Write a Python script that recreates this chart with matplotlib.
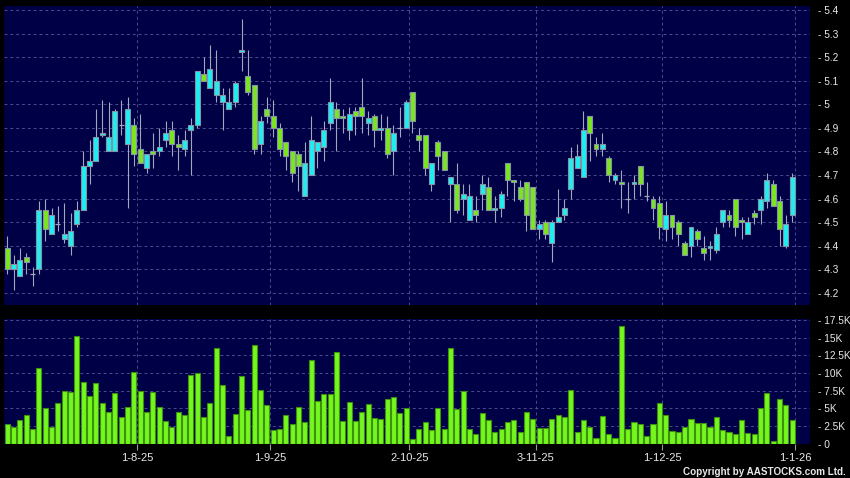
import numpy as np
import matplotlib
matplotlib.use('Agg')
from matplotlib import pyplot as plt
from matplotlib.ticker import FuncFormatter

# daily candles (index 0 = early July 2025, last = 31-12-25)
opens = [4.39, 4.30, 4.27, 4.35, 4.28, 4.30, 4.55, 4.45, 4.49, 4.43,
         4.40, 4.49, 4.55, 4.74, 4.76, 4.87, 4.80, 4.80, 4.91, 4.83,
         4.91, 4.81, 4.73, 4.80, 4.80, 4.85, 4.89, 4.83, 4.81, 4.89,
         4.91, 5.13, 5.07, 5.04, 5.01, 4.98, 5.01, 5.22, 5.12, 5.08,
         4.83, 4.98, 4.95, 4.90, 4.84, 4.80, 4.79, 4.61, 4.70, 4.80,
         4.82, 4.92, 4.98, 4.95, 4.89, 4.97, 4.99, 4.92, 4.95, 4.89,
         4.90, 4.80, 4.90, 4.90, 5.05, 4.87, 4.87, 4.66, 4.84, 4.80,
         4.66, 4.66, 4.60, 4.51, 4.55, 4.62, 4.65, 4.55, 4.56, 4.75,
         4.68, 4.65, 4.67, 4.65, 4.47, 4.50, 4.41, 4.50, 4.53, 4.64,
         4.73, 4.69, 4.95, 4.83, 4.81, 4.77, 4.68, 4.67, 4.60, 4.66,
         4.74, 4.61, 4.60, 4.58, 4.47, 4.53, 4.50, 4.41, 4.40, 4.46,
         4.39, 4.39, 4.38, 4.50, 4.53, 4.60, 4.51, 4.45, 4.54, 4.55,
         4.59, 4.66, 4.59, 4.40, 4.53]
highs = [4.44, 4.36, 4.39, 4.37, 4.31, 4.59, 4.60, 4.56, 4.57, 4.58,
         4.54, 4.59, 4.80, 4.85, 4.98, 5.02, 5.01, 4.98, 5.02, 5.03,
         4.94, 4.96, 4.79, 4.88, 4.90, 4.93, 4.93, 4.87, 4.89, 4.94,
         5.14, 5.20, 5.25, 5.23, 5.07, 5.07, 5.10, 5.36, 5.23, 5.08,
         4.95, 5.03, 5.02, 4.92, 4.84, 4.80, 4.80, 4.84, 4.95, 4.84,
         4.93, 5.11, 5.01, 4.98, 4.99, 4.99, 5.11, 4.97, 4.96, 4.96,
         4.95, 4.91, 4.99, 5.02, 5.05, 4.90, 4.87, 4.75, 4.85, 4.80,
         4.69, 4.75, 4.66, 4.66, 4.61, 4.70, 4.69, 4.61, 4.63, 4.75,
         4.68, 4.68, 4.67, 4.65, 4.51, 4.51, 4.51, 4.64, 4.60, 4.82,
         4.83, 4.97, 4.95, 4.86, 4.88, 4.78, 4.71, 4.72, 4.67, 4.70,
         4.74, 4.67, 4.61, 4.61, 4.59, 4.53, 4.51, 4.42, 4.48, 4.47,
         4.44, 4.42, 4.48, 4.55, 4.55, 4.60, 4.52, 4.52, 4.55, 4.61,
         4.71, 4.68, 4.61, 4.53, 4.71]
lows = [4.28, 4.21, 4.27, 4.28, 4.23, 4.28, 4.42, 4.45, 4.46, 4.41,
        4.36, 4.48, 4.55, 4.66, 4.76, 4.86, 4.80, 4.80, 4.87, 4.56,
        4.74, 4.75, 4.71, 4.73, 4.78, 4.82, 4.78, 4.72, 4.78, 4.70,
        4.90, 5.10, 5.07, 5.01, 4.89, 4.98, 4.99, 5.14, 5.04, 4.79,
        4.79, 4.92, 4.86, 4.78, 4.72, 4.67, 4.63, 4.61, 4.70, 4.73,
        4.76, 4.89, 4.80, 4.88, 4.85, 4.87, 4.88, 4.87, 4.82, 4.85,
        4.77, 4.70, 4.86, 4.90, 4.88, 4.80, 4.70, 4.63, 4.72, 4.72,
        4.50, 4.54, 4.53, 4.51, 4.50, 4.55, 4.55, 4.50, 4.52, 4.61,
        4.59, 4.59, 4.46, 4.47, 4.43, 4.43, 4.33, 4.50, 4.51, 4.60,
        4.73, 4.69, 4.76, 4.78, 4.78, 4.67, 4.66, 4.56, 4.54, 4.60,
        4.61, 4.59, 4.51, 4.43, 4.42, 4.43, 4.40, 4.36, 4.35, 4.40,
        4.34, 4.34, 4.37, 4.48, 4.48, 4.44, 4.43, 4.45, 4.49, 4.49,
        4.56, 4.57, 4.40, 4.39, 4.50]
closes = [4.30, 4.32, 4.34, 4.33, 4.28, 4.55, 4.47, 4.53, 4.49, 4.45,
          4.46, 4.55, 4.74, 4.76, 4.86, 4.88, 4.86, 4.97, 4.91, 4.98,
          4.79, 4.75, 4.79, 4.79, 4.82, 4.88, 4.83, 4.82, 4.85, 4.91,
          5.14, 5.10, 5.15, 5.10, 5.04, 5.01, 5.09, 5.23, 5.05, 4.81,
          4.93, 4.95, 4.90, 4.81, 4.78, 4.71, 4.74, 4.75, 4.85, 4.84,
          4.89, 5.01, 4.94, 4.94, 4.96, 4.95, 4.95, 4.94, 4.89, 4.90,
          4.79, 4.88, 4.90, 5.01, 4.93, 4.85, 4.73, 4.75, 4.78, 4.72,
          4.69, 4.55, 4.62, 4.61, 4.53, 4.66, 4.55, 4.56, 4.62, 4.68,
          4.67, 4.60, 4.53, 4.47, 4.49, 4.45, 4.50, 4.52, 4.56, 4.77,
          4.78, 4.89, 4.88, 4.81, 4.83, 4.70, 4.70, 4.66, 4.60, 4.67,
          4.66, 4.61, 4.56, 4.48, 4.53, 4.48, 4.45, 4.36, 4.48, 4.43,
          4.37, 4.40, 4.45, 4.55, 4.51, 4.48, 4.50, 4.50, 4.52, 4.60,
          4.68, 4.57, 4.47, 4.49, 4.69]
# volume in thousands
volume = [2.74, 2.27, 3.4, 4.0, 2.0, 10.7, 5.1, 2.3, 5.7, 7.4,
          7.3, 15.3, 8.7, 6.8, 8.6, 5.8, 4.4, 7.1, 3.8, 5.2,
          10.1, 7.5, 4.5, 7.3, 5.2, 3.2, 2.3, 4.4, 4.0, 9.7,
          10.0, 3.7, 5.8, 13.5, 8.3, 1.1, 4.2, 9.5, 4.7, 13.9,
          7.6, 5.4, 1.9, 2.0, 4.1, 2.7, 5.2, 3.1, 11.8, 6.0,
          7.0, 7.0, 12.9, 3.2, 5.9, 3.2, 4.4, 5.6, 3.6, 3.5,
          6.3, 6.6, 4.3, 5.0, 0.57, 2.1, 3.0, 1.9, 5.1, 2.1,
          13.5, 4.9, 7.5, 2.1, 1.4, 4.3, 3.4, 1.6, 2.1, 3.0,
          3.4, 1.6, 4.5, 3.5, 2.2, 2.2, 3.5, 4.0, 3.7, 7.6,
          1.6, 3.3, 2.4, 0.85, 3.9, 1.3, 0.8, 16.7, 2.1, 3.1,
          2.7, 1.1, 2.7, 5.8, 4.0, 1.8, 1.6, 2.3, 3.5, 2.9,
          2.9, 2.4, 3.8, 1.9, 1.7, 1.3, 3.3, 1.5, 1.3, 5.0,
          7.2, 0.42, 6.3, 5.4, 3.3]

month_pos = [20.5, 41.5, 63.5, 83.5, 103.5, 124.5]
month_labels = ['1-8-25', '1-9-25', '2-10-25', '3-11-25', '1-12-25', '1-1-26']
price_ticks = [4.2, 4.3, 4.4, 4.5, 4.6, 4.7, 4.8, 4.9, 5.0, 5.1, 5.2, 5.3, 5.4]
vol_ticks = [0, 2.5, 5, 7.5, 10, 12.5, 15, 17.5]

plt.rcParams['font.family'] = ['Liberation Sans', 'DejaVu Sans']

o = np.array(opens); h = np.array(highs); l = np.array(lows); c = np.array(closes)
x = np.arange(len(o))

bg = '#000046'
grid_c = '#4c4c8c'
up_c = '#1eeef2'
dn_c = '#7ae61e'
edge_c = '#8593a6'
txt_c = '#e8e8e8'

fig = plt.figure(figsize=(8.5, 4.78), dpi=100, facecolor='black')
ax = fig.add_axes([4/850, 1-305/478, 806/850, 299/478])
axv = fig.add_axes([4/850, 1-443.5/478, 806/850, 124.5/478])

for a in (ax, axv):
    a.set_facecolor(bg)
    for s in a.spines.values():
        s.set_visible(False)
    a.set_axisbelow(True)
    a.set_xlim(-0.52, 126.8)
    a.set_xticks(month_pos)
    a.grid(True, color=grid_c, linestyle=(0, (3, 3)), linewidth=0.7)
    a.tick_params(axis='y', left=False, labelleft=False, right=False, labelright=True,
                  labelsize=7.3, labelcolor=txt_c, pad=2.6)

# candles
ax.vlines(x, l, h, color='#a2a8ba', linewidth=0.8, zorder=2)
up = c > o
dn = c < o
eq = c == o
ax.bar(x[up], (c - o)[up], bottom=o[up], width=0.78, color=up_c,
       edgecolor=edge_c, linewidth=0.8, zorder=3)
ax.bar(x[dn], (o - c)[dn], bottom=c[dn], width=0.78, color=dn_c,
       edgecolor=edge_c, linewidth=0.8, zorder=3)
ax.hlines(o[eq], x[eq] - 0.39, x[eq] + 0.39, color='#a2a8ba', linewidth=0.9, zorder=3)

ax.set_ylim(4.148, 5.417)
ax.set_yticks(price_ticks)
ax.yaxis.set_major_formatter(FuncFormatter(lambda v, p: '- %g' % round(v, 2)))
ax.tick_params(axis='x', bottom=False, labelbottom=False)

# volume
axv.bar(x, volume, width=0.8, color='#74f71c', edgecolor='#3f8f10', linewidth=0.8, zorder=3)
axv.set_ylim(0, 17.64)
axv.set_yticks(vol_ticks)
axv.yaxis.set_major_formatter(FuncFormatter(lambda v, p: '- 0' if v == 0 else '- %gK' % v))
axv.set_xticklabels(month_labels)
axv.tick_params(axis='x', direction='out', length=4, color='#9a9a9a',
                labelsize=8, labelcolor=txt_c, pad=3)

fig.text(846/850, 1-472/478, 'Copyright by AASTOCKS.com Ltd.', color=txt_c,
         fontsize=7.1, fontweight='bold', ha='right', va='center')

fig.savefig('out.png', dpi=100, facecolor='black')
